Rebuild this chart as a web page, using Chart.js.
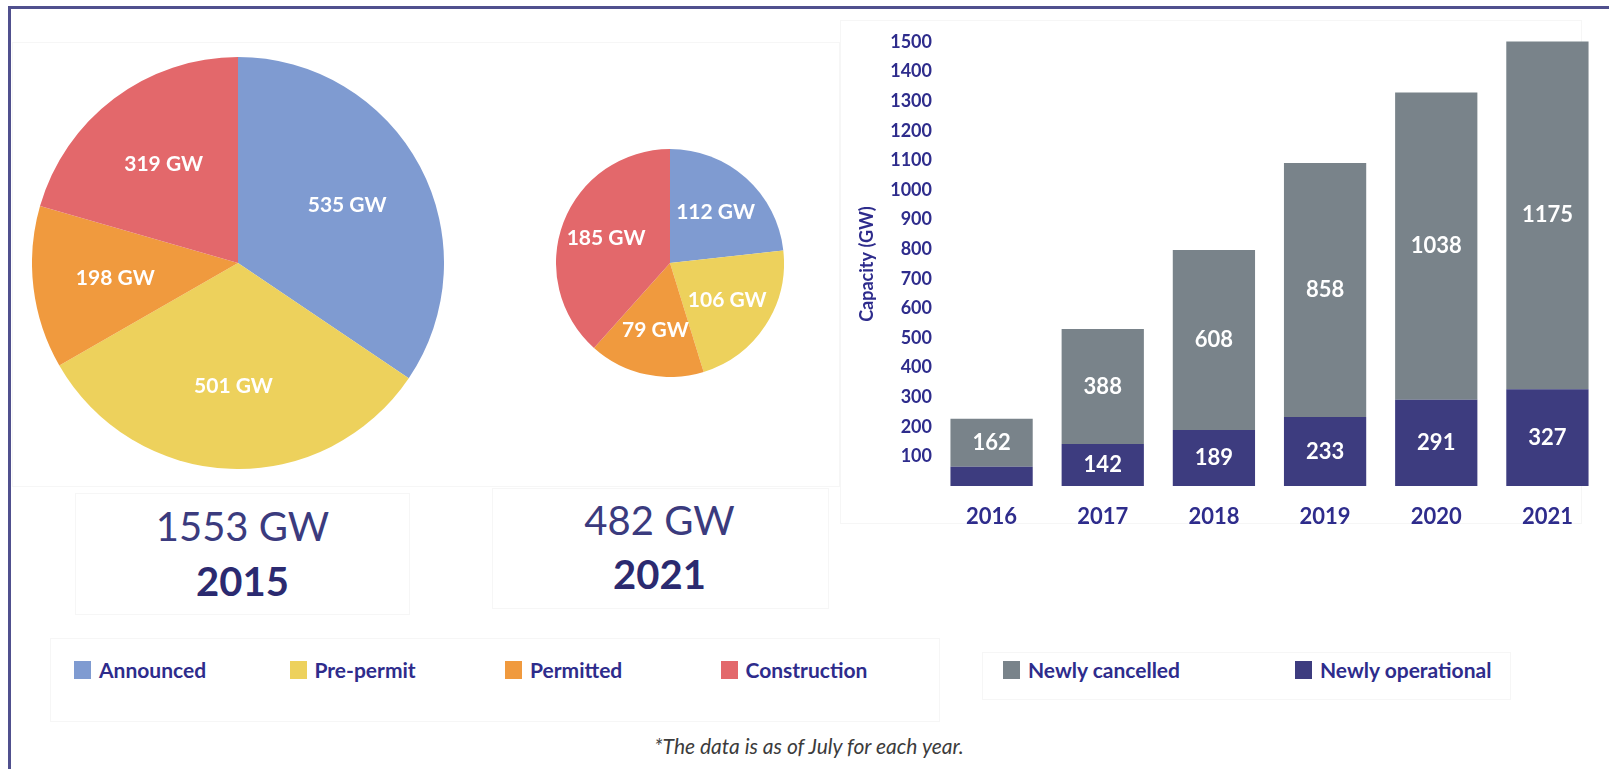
<!DOCTYPE html>
<html>
<head>
<meta charset="utf-8">
<title>Coal pipeline</title>
<script src="https://cdn.jsdelivr.net/npm/chart.js@4.4.1/dist/chart.umd.min.js"></script>
<style>
  body { margin: 0; width: 1609px; height: 769px; background: #fff; overflow: hidden; position: relative; font-family: Lato, "Open Sans", sans-serif; }
  .frame { position: absolute; left: 8px; top: 6px; width: 1700px; height: 900px; border-top: 3px solid #50508e; border-left: 3px solid #50508e; }
  .faint { position: absolute; border: 1px solid #f6f6f6; }
  .big { position: absolute; text-align: center; font-size: 40px; line-height: 48px; color: #3b3b7e; }
  .big b { color: #2b2a70; }
  .legend { position: absolute; top: 658px; height: 24px; }
  .legend .item { position: absolute; top: 0; white-space: nowrap; font-weight: bold; font-size: 21px; line-height: 24px; color: #2e2c8c; }
  .legend .sw { position: absolute; top: 3px; width: 17px; height: 18px; }
  .legend .txt { position: absolute; left: 25px; top: 0; }
  .note { position: absolute; left: 0; width: 1618px; top: 733px; text-align: center; font-style: italic; font-size: 21px; color: #3c3c3c; }
  canvas { position: absolute; }
</style>
</head>
<body>
<div class="frame"></div>
<div class="faint" style="left:12px;top:42px;width:826px;height:443px;"></div>
<div class="faint" style="left:840px;top:20px;width:740px;height:502px;"></div>
<div class="faint" style="left:75px;top:493px;width:333px;height:120px;"></div>
<div class="faint" style="left:492px;top:488px;width:335px;height:119px;"></div>
<div class="faint" style="left:50px;top:638px;width:888px;height:82px;"></div>
<div class="faint" style="left:982px;top:652px;width:527px;height:46px;"></div>

<canvas id="pie2015" width="412" height="412" style="left:32px;top:57px;"></canvas>
<canvas id="pie2021" width="228" height="228" style="left:556px;top:149px;"></canvas>
<canvas id="barChart" width="759" height="510" style="left:850px;top:20px;"></canvas>

<div class="big" style="left:75px;width:335px;top:502px;" id="total2015"></div>
<div class="big" style="left:75px;width:335px;top:557px;"><b id="year2015"></b></div>
<div class="big" style="left:492px;width:335px;top:496px;" id="total2021"></div>
<div class="big" style="left:492px;width:335px;top:550px;"><b id="year2021"></b></div>

<div class="legend" id="pieLegend" style="left:74px;"></div>
<div class="legend" id="barLegend" style="left:1003px;"></div>
<div class="note">*The data is as of July for each year.</div>

<script>
// --- Data
const pieCategories = ["Announced", "Pre-permit", "Permitted", "Construction"];
const pieColors = ["#7f9bd1", "#edd15c", "#f09a3e", "#e3686b"];
const pieYears = ["2015", "2021"];
const capacity2015 = [535, 501, 198, 319];
const capacity2021 = [112, 106, 79, 185];

const years = ["2016", "2017", "2018", "2019", "2020", "2021"];
const newlyOperational = [65, 142, 189, 233, 291, 327];
const newlyCancelled = [162, 388, 608, 858, 1038, 1175];
const barSeries = ["Newly cancelled", "Newly operational"];
const barColors = ["#79838a", "#3d3c7f"];

const navy = "#2e2c8c";
Chart.defaults.font.family = "Lato, 'Open Sans', sans-serif";
Chart.defaults.animation = false;

// --- Plugin: label "xxx GW" di tiap slice
const sliceLabelPlugin = {
  id: "sliceLabel",
  afterDatasetsDraw(chart) {
    const { ctx } = chart;
    const values = chart.data.datasets[0].data;
    ctx.save();
    ctx.font = "bold 21px Lato, sans-serif";
    ctx.fillStyle = "#fff";
    ctx.textAlign = "center";
    ctx.textBaseline = "middle";
    chart.getDatasetMeta(0).data.forEach((arc, i) => {
      const mid = (arc.startAngle + arc.endAngle) / 2;
      const r = arc.outerRadius * 0.6;
      ctx.fillText(values[i] + " GW", arc.x + Math.cos(mid) * r, arc.y + Math.sin(mid) * r);
    });
    ctx.restore();
  }
};

// --- Plugin: angka di tengah tiap segmen bar
const barLabelPlugin = {
  id: "barLabel",
  afterDatasetsDraw(chart) {
    const { ctx } = chart;
    ctx.save();
    ctx.font = "bold 22px Lato, sans-serif";
    ctx.fillStyle = "#fff";
    ctx.textAlign = "center";
    ctx.textBaseline = "middle";
    chart.data.datasets.forEach((ds, di) => {
      chart.getDatasetMeta(di).data.forEach((bar, i) => {
        const h = Math.abs(bar.base - bar.y);
        if (h < 25) return; // segmen terlalu kecil, tanpa label
        ctx.fillText(ds.data[i], bar.x, (bar.y + bar.base) / 2);
      });
    });
    ctx.restore();
  }
};

function makePie(id, values) {
  return new Chart(document.getElementById(id), {
    type: "pie",
    data: {
      labels: pieCategories,
      datasets: [{ data: values, backgroundColor: pieColors, borderWidth: 0 }]
    },
    options: {
      responsive: false,
      layout: { padding: 0 },
      plugins: { legend: { display: false }, tooltip: { enabled: false } }
    },
    plugins: [sliceLabelPlugin]
  });
}

const sum = arr => arr.reduce((a, b) => a + b, 0);

window.addEventListener("load", () => {
  makePie("pie2015", capacity2015);
  makePie("pie2021", capacity2021);

  document.getElementById("total2015").textContent = sum(capacity2015) + " GW";
  document.getElementById("total2021").textContent = sum(capacity2021) + " GW";
  document.getElementById("year2015").textContent = pieYears[0];
  document.getElementById("year2021").textContent = pieYears[1];

  // --- Stacked bar
  new Chart(document.getElementById("barChart"), {
    type: "bar",
    data: {
      labels: years,
      datasets: [
        { label: barSeries[1], data: newlyOperational, backgroundColor: barColors[1], clip: 6 },
        { label: barSeries[0], data: newlyCancelled, backgroundColor: barColors[0], clip: 6 }
      ]
    },
    options: {
      responsive: false,
      categoryPercentage: 1,
      barPercentage: 0.74,
      layout: { padding: { top: 22, right: 6, left: 0, bottom: 0 } },
      plugins: { legend: { display: false }, tooltip: { enabled: false } },
      scales: {
        x: {
          stacked: true,
          grid: { display: false },
          border: { display: false },
          ticks: { color: navy, padding: 10, font: { size: 22, weight: "bold" } },
          afterFit: s => { s.height = 44; }
        },
        y: {
          stacked: true,
          min: 0, max: 1500,
          grid: { display: false, drawTicks: false },
          border: { display: false },
          ticks: {
            stepSize: 100, color: navy, padding: 4,
            font: { size: 18, weight: "bold" },
            callback: v => (v === 0 ? "" : v)
          },
          title: {
            display: true, text: "Capacity (GW)", color: navy,
            font: { size: 18, weight: "bold" }, padding: { top: 6, bottom: 0 }
          },
          afterFit: s => { s.width = 86; }
        }
      }
    },
    plugins: [barLabelPlugin]
  });

  // --- Legends
  const pieLegend = document.getElementById("pieLegend");
  pieCategories.forEach((name, i) => {
    pieLegend.insertAdjacentHTML("beforeend",
      `<div class="item" style="left:${i * 215.5}px"><span class="sw" style="background:${pieColors[i]}"></span><span class="txt">${name}</span></div>`);
  });
  const barLegend = document.getElementById("barLegend");
  barSeries.forEach((name, i) => {
    barLegend.insertAdjacentHTML("beforeend",
      `<div class="item" style="left:${i * 292}px"><span class="sw" style="background:${barColors[i]}"></span><span class="txt">${name}</span></div>`);
  });
});
</script>
</body>
</html>
